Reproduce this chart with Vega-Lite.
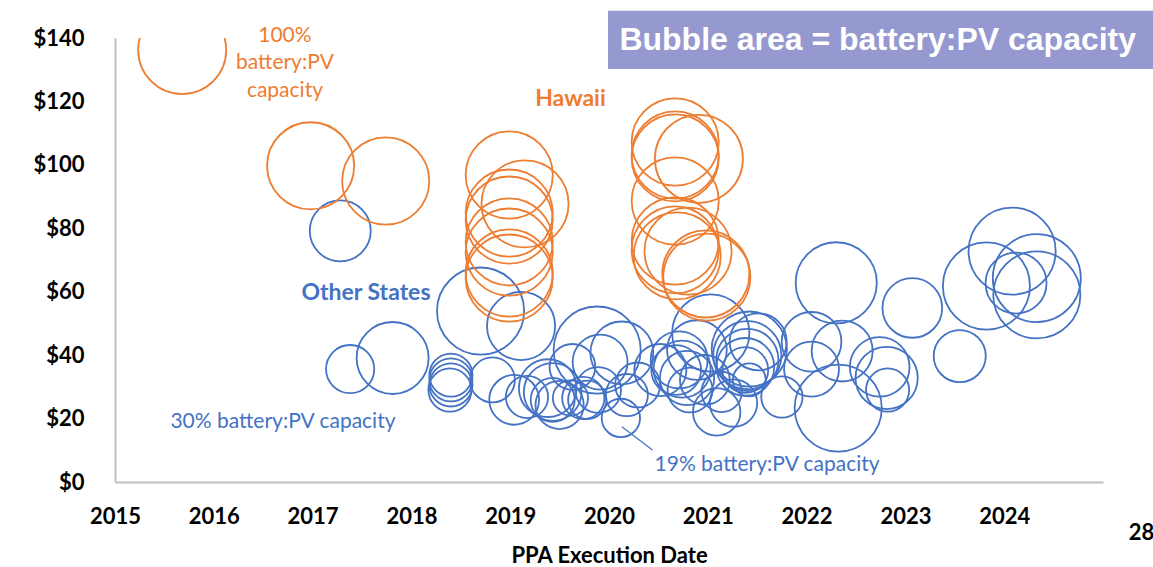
{
  "$schema": "https://vega.github.io/schema/vega-lite/v6.json",
  "width": 988,
  "height": 444,
  "autosize": {"type": "none"},
  "padding": {"left": 115, "top": 38, "right": 50, "bottom": 85},
  "background": "white",
  "config": {"view": {"stroke": null}, "font": "Lato"},
  "datasets": {
    "bubbles": [
      {"x": 2017.28, "y": 79.2, "ratio": 0.48, "region": "Other States"},
      {"x": 2017.38, "y": 35.6, "ratio": 0.30, "region": "Other States"},
      {"x": 2017.81, "y": 39.1, "ratio": 0.67, "region": "Other States"},
      {"x": 2018.40, "y": 33.7, "ratio": 0.24, "region": "Other States"},
      {"x": 2018.40, "y": 32.2, "ratio": 0.24, "region": "Other States"},
      {"x": 2018.40, "y": 30.6, "ratio": 0.24, "region": "Other States"},
      {"x": 2018.39, "y": 29.0, "ratio": 0.24, "region": "Other States"},
      {"x": 2018.70, "y": 53.9, "ratio": 0.98, "region": "Other States"},
      {"x": 2019.11, "y": 49.2, "ratio": 0.60, "region": "Other States"},
      {"x": 2018.82, "y": 32.2, "ratio": 0.26, "region": "Other States"},
      {"x": 2019.04, "y": 25.9, "ratio": 0.32, "region": "Other States"},
      {"x": 2019.17, "y": 26.8, "ratio": 0.23, "region": "Other States"},
      {"x": 2019.38, "y": 29.6, "ratio": 0.43, "region": "Other States"},
      {"x": 2019.43, "y": 28.4, "ratio": 0.43, "region": "Other States"},
      {"x": 2019.43, "y": 25.9, "ratio": 0.25, "region": "Other States"},
      {"x": 2019.50, "y": 24.3, "ratio": 0.30, "region": "Other States"},
      {"x": 2019.63, "y": 36.3, "ratio": 0.27, "region": "Other States"},
      {"x": 2019.88, "y": 41.6, "ratio": 0.98, "region": "Other States"},
      {"x": 2019.91, "y": 37.8, "ratio": 0.39, "region": "Other States"},
      {"x": 2020.13, "y": 40.7, "ratio": 0.51, "region": "Other States"},
      {"x": 2019.78, "y": 25.9, "ratio": 0.19, "region": "Other States"},
      {"x": 2020.12, "y": 20.2, "ratio": 0.19, "region": "Other States"},
      {"x": 2019.74, "y": 26.5, "ratio": 0.23, "region": "Other States"},
      {"x": 2019.89, "y": 29.0, "ratio": 0.27, "region": "Other States"},
      {"x": 2019.61, "y": 26.5, "ratio": 0.16, "region": "Other States"},
      {"x": 2020.29, "y": 30.6, "ratio": 0.26, "region": "Other States"},
      {"x": 2020.18, "y": 27.4, "ratio": 0.23, "region": "Other States"},
      {"x": 2021.03, "y": 47.0, "ratio": 0.77, "region": "Other States"},
      {"x": 2020.71, "y": 38.5, "ratio": 0.42, "region": "Other States"},
      {"x": 2020.74, "y": 35.6, "ratio": 0.42, "region": "Other States"},
      {"x": 2020.68, "y": 35.3, "ratio": 0.32, "region": "Other States"},
      {"x": 2020.79, "y": 32.8, "ratio": 0.38, "region": "Other States"},
      {"x": 2020.89, "y": 41.6, "ratio": 0.46, "region": "Other States"},
      {"x": 2020.97, "y": 32.2, "ratio": 0.32, "region": "Other States"},
      {"x": 2021.42, "y": 41.9, "ratio": 0.73, "region": "Other States"},
      {"x": 2021.40, "y": 40.0, "ratio": 0.60, "region": "Other States"},
      {"x": 2021.40, "y": 38.5, "ratio": 0.50, "region": "Other States"},
      {"x": 2021.38, "y": 36.3, "ratio": 0.43, "region": "Other States"},
      {"x": 2021.38, "y": 35.3, "ratio": 0.27, "region": "Other States"},
      {"x": 2021.51, "y": 44.2, "ratio": 0.42, "region": "Other States"},
      {"x": 2021.09, "y": 22.1, "ratio": 0.29, "region": "Other States"},
      {"x": 2021.26, "y": 24.9, "ratio": 0.29, "region": "Other States"},
      {"x": 2021.42, "y": 32.2, "ratio": 0.14, "region": "Other States"},
      {"x": 2021.75, "y": 26.8, "ratio": 0.22, "region": "Other States"},
      {"x": 2022.05, "y": 44.2, "ratio": 0.46, "region": "Other States"},
      {"x": 2022.36, "y": 41.3, "ratio": 0.48, "region": "Other States"},
      {"x": 2022.32, "y": 23.3, "ratio": 0.98, "region": "Other States"},
      {"x": 2022.30, "y": 62.8, "ratio": 0.85, "region": "Other States"},
      {"x": 2022.05, "y": 35.6, "ratio": 0.39, "region": "Other States"},
      {"x": 2022.74, "y": 36.3, "ratio": 0.46, "region": "Other States"},
      {"x": 2022.81, "y": 32.8, "ratio": 0.50, "region": "Other States"},
      {"x": 2022.82, "y": 29.0, "ratio": 0.24, "region": "Other States"},
      {"x": 2023.07, "y": 54.9, "ratio": 0.46, "region": "Other States"},
      {"x": 2023.55, "y": 39.7, "ratio": 0.35, "region": "Other States"},
      {"x": 2023.82, "y": 61.8, "ratio": 0.98, "region": "Other States"},
      {"x": 2024.08, "y": 72.8, "ratio": 0.98, "region": "Other States"},
      {"x": 2024.12, "y": 62.7, "ratio": 0.48, "region": "Other States"},
      {"x": 2024.33, "y": 64.3, "ratio": 1.0, "region": "Other States"},
      {"x": 2024.33, "y": 59.0, "ratio": 0.98, "region": "Other States"},
      {"x": 2021.14, "y": 28.4, "ratio": 0.21, "region": "Other States"},
      {"x": 2020.82, "y": 29.0, "ratio": 0.26, "region": "Other States"},
      {"x": 2020.52, "y": 35.3, "ratio": 0.35, "region": "Other States"},
      {"x": 2015.68, "y": 136.2, "ratio": 1.0, "region": "Hawaii"},
      {"x": 2016.98, "y": 99.7, "ratio": 0.98, "region": "Hawaii"},
      {"x": 2017.74, "y": 94.9, "ratio": 0.98, "region": "Hawaii"},
      {"x": 2018.99, "y": 96.8, "ratio": 0.98, "region": "Hawaii"},
      {"x": 2019.15, "y": 87.7, "ratio": 0.98, "region": "Hawaii"},
      {"x": 2018.99, "y": 84.8, "ratio": 0.98, "region": "Hawaii"},
      {"x": 2018.99, "y": 82.6, "ratio": 0.98, "region": "Hawaii"},
      {"x": 2018.99, "y": 75.7, "ratio": 0.98, "region": "Hawaii"},
      {"x": 2018.99, "y": 72.5, "ratio": 0.98, "region": "Hawaii"},
      {"x": 2018.99, "y": 65.9, "ratio": 0.98, "region": "Hawaii"},
      {"x": 2018.99, "y": 64.3, "ratio": 0.98, "region": "Hawaii"},
      {"x": 2020.67, "y": 107.2, "ratio": 0.98, "region": "Hawaii"},
      {"x": 2020.67, "y": 103.1, "ratio": 0.98, "region": "Hawaii"},
      {"x": 2020.67, "y": 102.2, "ratio": 0.98, "region": "Hawaii"},
      {"x": 2020.91, "y": 101.9, "ratio": 1.0, "region": "Hawaii"},
      {"x": 2020.67, "y": 88.6, "ratio": 0.98, "region": "Hawaii"},
      {"x": 2020.67, "y": 76.0, "ratio": 0.98, "region": "Hawaii"},
      {"x": 2020.67, "y": 73.2, "ratio": 0.98, "region": "Hawaii"},
      {"x": 2020.69, "y": 71.3, "ratio": 0.98, "region": "Hawaii"},
      {"x": 2020.80, "y": 72.8, "ratio": 0.98, "region": "Hawaii"},
      {"x": 2020.98, "y": 65.6, "ratio": 0.98, "region": "Hawaii"},
      {"x": 2020.99, "y": 64.6, "ratio": 0.98, "region": "Hawaii"}
    ],
    "notes": [
      {"x": 2016.72, "y": 140.7, "label": "100%", "region": "Hawaii"},
      {"x": 2016.72, "y": 132.0, "label": "battery:PV", "region": "Hawaii"},
      {"x": 2016.72, "y": 123.3, "label": "capacity", "region": "Hawaii"},
      {"x": 2016.70, "y": 18.9, "label": "30% battery:PV capacity", "region": "Other States"},
      {"x": 2021.60, "y": 5.4, "label": "19% battery:PV capacity", "region": "Other States"}
    ],
    "groups": [
      {"x": 2019.61, "y": 120.8, "label": "Hawaii", "region": "Hawaii"},
      {"x": 2017.54, "y": 59.6, "label": "Other States", "region": "Other States"}
    ],
    "pointer": [
      {"x": 2020.13, "y": 17.4, "x2": 2020.44, "y2": 10.1}
    ],
    "box": [
      {"x": 2019.99, "y": 148.6, "x2": 2025.8, "y2": 130.2, "label": "Bubble area = battery:PV capacity", "xt": 2022.72, "yt": 139.4}
    ],
    "page": [
      {"x": 2025.26, "y": -16.1, "label": "28"}
    ]
  },
  "encoding": {
    "x": {
      "field": "x",
      "type": "quantitative",
      "scale": {"domain": [2015, 2025], "nice": false, "zero": false},
      "axis": {
        "values": [2015, 2016, 2017, 2018, 2019, 2020, 2021, 2022, 2023, 2024],
        "format": "d",
        "title": "PPA Execution Date",
        "titleFontSize": 22,
        "titleFontWeight": "bold",
        "titleColor": "#000000",
        "titlePadding": 18,
        "labelFontSize": 22,
        "labelFontWeight": "bold",
        "labelColor": "#000000",
        "labelPadding": 24,
        "labelOverlap": false,
        "labelFlush": false,
        "ticks": false,
        "grid": false,
        "domainColor": "#BFBFBF",
        "domainWidth": 2
      }
    },
    "y": {
      "field": "y",
      "type": "quantitative",
      "scale": {"domain": [0, 140], "nice": false, "zero": true},
      "axis": {
        "values": [0, 20, 40, 60, 80, 100, 120, 140],
        "labelExpr": "'$' + datum.value",
        "title": null,
        "labelFontSize": 22,
        "labelFontWeight": "bold",
        "labelColor": "#000000",
        "labelPadding": 31,
        "labelOverlap": false,
        "labelFlush": false,
        "ticks": false,
        "grid": false,
        "domainColor": "#BFBFBF",
        "domainWidth": 2
      }
    }
  },
  "layer": [
    {
      "data": {"name": "bubbles"},
      "mark": {"type": "point", "shape": "circle", "filled": false, "strokeWidth": 1.8, "opacity": 1, "clip": true},
      "encoding": {
        "size": {"field": "ratio", "type": "quantitative", "scale": {"type": "linear", "domain": [0, 1], "range": [0, 7744], "zero": true}, "legend": null},
        "color": {"field": "region", "type": "nominal", "scale": {"domain": ["Other States", "Hawaii"], "range": ["#4472C4", "#ED7D31"]}, "legend": null},
        "order": {"field": "region", "sort": "descending"}
      }
    },
    {
      "data": {"name": "pointer"},
      "mark": {"type": "rule", "color": "#4472C4", "strokeWidth": 1.2},
      "encoding": {
        "x2": {"field": "x2"},
        "y2": {"field": "y2"}
      }
    },
    {
      "data": {"name": "notes"},
      "mark": {"type": "text", "fontSize": 21, "align": "center", "baseline": "middle"},
      "encoding": {
        "text": {"field": "label"},
        "color": {"field": "region", "type": "nominal", "scale": {"domain": ["Other States", "Hawaii"], "range": ["#4472C4", "#ED7D31"]}, "legend": null}
      }
    },
    {
      "data": {"name": "groups"},
      "mark": {"type": "text", "fontSize": 23, "fontWeight": "bold", "align": "center", "baseline": "middle"},
      "encoding": {
        "text": {"field": "label"},
        "color": {"field": "region", "type": "nominal", "scale": {"domain": ["Other States", "Hawaii"], "range": ["#4472C4", "#ED7D31"]}, "legend": null}
      }
    },
    {
      "data": {"name": "box"},
      "mark": {"type": "rect", "color": "#9599D0"},
      "encoding": {
        "x2": {"field": "x2"},
        "y2": {"field": "y2"}
      }
    },
    {
      "data": {"name": "box"},
      "mark": {"type": "text", "font": "Liberation Sans", "fontSize": 32, "fontWeight": "bold", "color": "#FFFFFF", "align": "center", "baseline": "middle"},
      "encoding": {
        "x": {"field": "xt", "type": "quantitative"},
        "y": {"field": "yt", "type": "quantitative"},
        "text": {"field": "label"}
      }
    },
    {
      "data": {"name": "page"},
      "mark": {"type": "text", "fontSize": 22, "fontWeight": "bold", "color": "#000000", "align": "left", "baseline": "middle"},
      "encoding": {
        "text": {"field": "label"}
      }
    }
  ]
}
